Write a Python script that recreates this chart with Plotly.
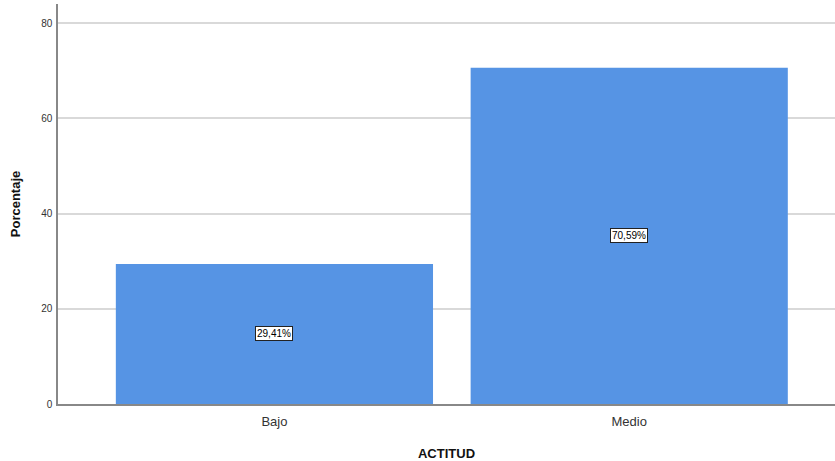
import plotly.graph_objects as go

categories = ["Bajo", "Medio"]
values = [29.41, 70.59]
labels = ["29,41%", "70,59%"]
y_ticks = [0, 20, 40, 60, 80]

fig = go.Figure()
fig.add_trace(go.Bar(
    x=categories, y=values, width=0.894,
    marker=dict(color="#5694E4", line=dict(width=0)),
    hoverinfo="skip",
))

for c, v, t in zip(categories, values, labels):
    fig.add_annotation(
        x=c, y=v / 2, text=t, showarrow=False,
        font=dict(family="Liberation Sans, Arial", size=10, color="#000000"),
        bgcolor="#FFFFFF", bordercolor="#222222", borderwidth=1, borderpad=1,
    )

fig.update_layout(
    width=835, height=461,
    margin=dict(l=58, r=0, t=4, b=57, autoexpand=False),
    paper_bgcolor="white", plot_bgcolor="white",
    showlegend=False,
    font=dict(family="Liberation Sans, Arial", color="#222222"),
    xaxis=dict(
        range=[-0.61, 1.58], automargin=False,
        showline=True, linecolor="#888888", linewidth=1.5,
        ticks="", tickfont=dict(size=13, color="#333333"), ticklabelstandoff=5,
        title=dict(text="<b>ACTITUD</b>", font=dict(size=13, color="#111111"), standoff=24),
        showgrid=False, zeroline=False,
    ),
    yaxis=dict(
        range=[0, 84], tickvals=y_ticks, automargin=False,
        showline=True, linecolor="#888888", linewidth=1.5,
        showgrid=True, gridcolor="#D9D9D9", gridwidth=1.5,
        ticks="", ticklen=0, tickfont=dict(size=10, color="#333333"), ticklabelstandoff=2,
        title=dict(text="<b>Porcentaje</b>", font=dict(size=13, color="#111111"), standoff=18),
        zeroline=False,
    ),
)

fig.write_html("out.html", config={"displayModeBar": False},
               post_script="document.body.style.margin='0';")
